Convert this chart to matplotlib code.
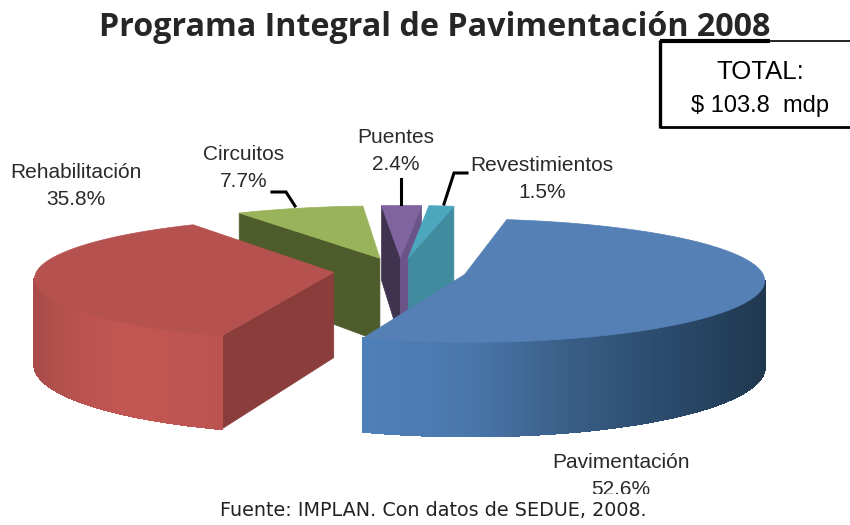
# -*- coding: utf-8 -*-
"""
Programa Integral de Pavimentacion 2008 - exploded 3D style pie
"""

import numpy as np
import matplotlib
matplotlib.use("Agg")
import matplotlib.pyplot as plt
from matplotlib.colors import to_rgb
from matplotlib.patches import Polygon, Rectangle

# Data
categories = ["Pavimentación", "Rehabilitación", "Circuitos", "Puentes", "Revestimientos"]
shares = [52.6, 35.8, 7.7, 2.4, 1.5]
share_labels = ["52.6%", "35.8%", "7.7%", "2.4%", "1.5%"]

# Colours: top face, cut face, then wall gradient from west to east
top_colors = ["#5480b5", "#b5524f", "#98b35a", "#7f64a0", "#4ba6be"]
cut_colors = ["#3d6088", "#8b3d3b", "#4e5c2c", "#3f3350", "#418b9f"]
right_cut_colors = ["#3d6088", "#8b3d3b", "#4e5c2c", "#6b5488", "#418b9f"]
wall_stops = [
    ["#4f7fb8", "#4a78ad", "#3a5f88", "#2b4a6c", "#20384f"],
    ["#a84c49", "#bb5350", "#c25653", "#bf5552", "#bb5350"],
    ["#4e5c2c", "#4e5c2c", "#4e5c2c", "#4e5c2c", "#4e5c2c"],
    ["#3f3350", "#3f3350", "#3f3350", "#3f3350", "#3f3350"],
    ["#418b9f", "#418b9f", "#418b9f", "#418b9f", "#418b9f"],
]

# Pie geometry in pixels
CX, CY = 400, 271
RX, RY = 297, 61
PERSP = 0.10
PERSP_X = 0.085
DEPTH = 85
DEPTH_PERSP = 0.10
EXPLODE = 0.224
START = 10.0


def project(x, y):
    """World pie coordinates to screen pixels"""
    sx = CX + RX * x * (1 - PERSP_X * y)
    sy = CY - RY * y * (1 - PERSP * y)
    return sx, sy


def depth_at(y):
    return DEPTH * (1 - DEPTH_PERSP * y)


def mix(stops, f):
    rgb = np.array([to_rgb(c) for c in stops])
    pos = np.linspace(0, 1, len(stops))
    return tuple(np.interp(f, pos, rgb[:, i]) for i in range(3))


fig = plt.figure(figsize=(8.5, 5.25), dpi=100)
ax = fig.add_axes([0, 0, 1, 1])
ax.set_xlim(0, 850)
ax.set_ylim(525, 0)
ax.axis("off")

# Slice angles clockwise from north
total = sum(shares)
spans = [s / total * 360 for s in shares]
starts = START + np.cumsum([0] + spans[:-1])
draw_order = [2, 3, 4, 1, 0]
z = 1

for i in draw_order:
    t0, t1 = np.radians(starts[i]), np.radians(starts[i] + spans[i])
    mid = (t0 + t1) / 2
    ex, ey = EXPLODE * np.sin(mid), EXPLODE * np.cos(mid)
    n = max(int(spans[i] * 2), 8)
    theta = np.linspace(t0, t1, n + 1)
    wx = ex + np.sin(theta)
    wy = ey + np.cos(theta)
    px, py = project(wx, wy)
    dp = depth_at(wy)
    ax_, ay_ = project(ex, ey)
    ad = depth_at(ey)

    # Cut faces, only those facing the viewer
    if px[0] < ax_:
        ax.add_patch(Polygon([(ax_, ay_), (px[0], py[0]), (px[0], py[0] + dp[0]), (ax_, ay_ + ad)],
                             closed=True, fc=cut_colors[i], ec=cut_colors[i], lw=0.5, zorder=z))
    if ax_ < px[-1]:
        ax.add_patch(Polygon([(px[-1], py[-1]), (ax_, ay_), (ax_, ay_ + ad), (px[-1], py[-1] + dp[-1])],
                             closed=True, fc=right_cut_colors[i], ec=right_cut_colors[i], lw=0.5, zorder=z))

    # Outer wall, front part of the rim
    for k in range(n):
        if px[k + 1] < px[k]:
            f = ((px[k] + px[k + 1]) / 2 - px.min()) / max(px.max() - px.min(), 1)
            col = mix(wall_stops[i], f)
            ax.add_patch(Polygon([(px[k], py[k]), (px[k + 1], py[k + 1]),
                                  (px[k + 1], py[k + 1] + dp[k + 1]), (px[k], py[k] + dp[k])],
                                 closed=True, fc=col, ec=col, lw=1.0, antialiased=False, zorder=z))

    # Top face
    ax.add_patch(Polygon(np.column_stack([np.r_[ax_, px], np.r_[ay_, py]]), closed=True,
                         fc=top_colors[i], ec=top_colors[i], lw=0.5, zorder=z + 0.5))
    z += 1

# Labels
label_font = dict(family="Liberation Sans", fontsize=15, color="#2a2a2a", ha="center",
                  va="center", linespacing=1.5, zorder=20)
label_xy = [(621, 476), (76, 186), (244, 168), (396, 151), (542, 179)]
for name, pct, (lx, ly) in zip(categories, share_labels, label_xy):
    ax.text(lx, ly, f"{name}\n{pct}", **label_font)

# Leader lines
ax.plot([272, 286, 295], [192, 192, 206], color="black", lw=2.2, solid_joinstyle="miter", zorder=15)
ax.plot([401, 401], [179, 204], color="black", lw=2.2, zorder=15)
ax.plot([467, 454, 444], [173, 173, 204], color="black", lw=2.2, solid_joinstyle="miter", zorder=15)

# White strip hides the bottom of the last label, as in the source image
ax.add_patch(Rectangle((0, 494), 850, 31, fc="white", ec="none", zorder=25))

# Title and footer
ax.text(435, 27, "Programa Integral de Pavimentación 2008", family="Open Sans", weight="bold",
        fontsize=23.2, color="#262626", ha="center", va="center", zorder=30)
ax.text(433, 511, "Fuente: IMPLAN. Con datos de SEDUE, 2008.", family="DejaVu Sans",
        fontsize=13.8, color="#222222", ha="center", va="center", zorder=30)

# TOTAL box
ax.plot([660, 770], [41, 41], color="black", lw=3, solid_capstyle="butt", zorder=30)
ax.plot([770, 850], [41, 41], color="black", lw=1.2, solid_capstyle="butt", zorder=30)
ax.plot([660, 660], [40, 128], color="black", lw=2.4, solid_capstyle="butt", zorder=30)
ax.plot([660, 850], [127, 127], color="black", lw=2, solid_capstyle="butt", zorder=30)
ax.text(760, 72, "TOTAL:", family="Liberation Sans", fontsize=18.5, color="black",
        ha="center", va="center", zorder=30)
ax.text(760, 106, "$ 103.8  mdp", family="Liberation Sans", fontsize=17, color="black",
        ha="center", va="center", zorder=30)

plt.savefig("out.png", dpi=100)
